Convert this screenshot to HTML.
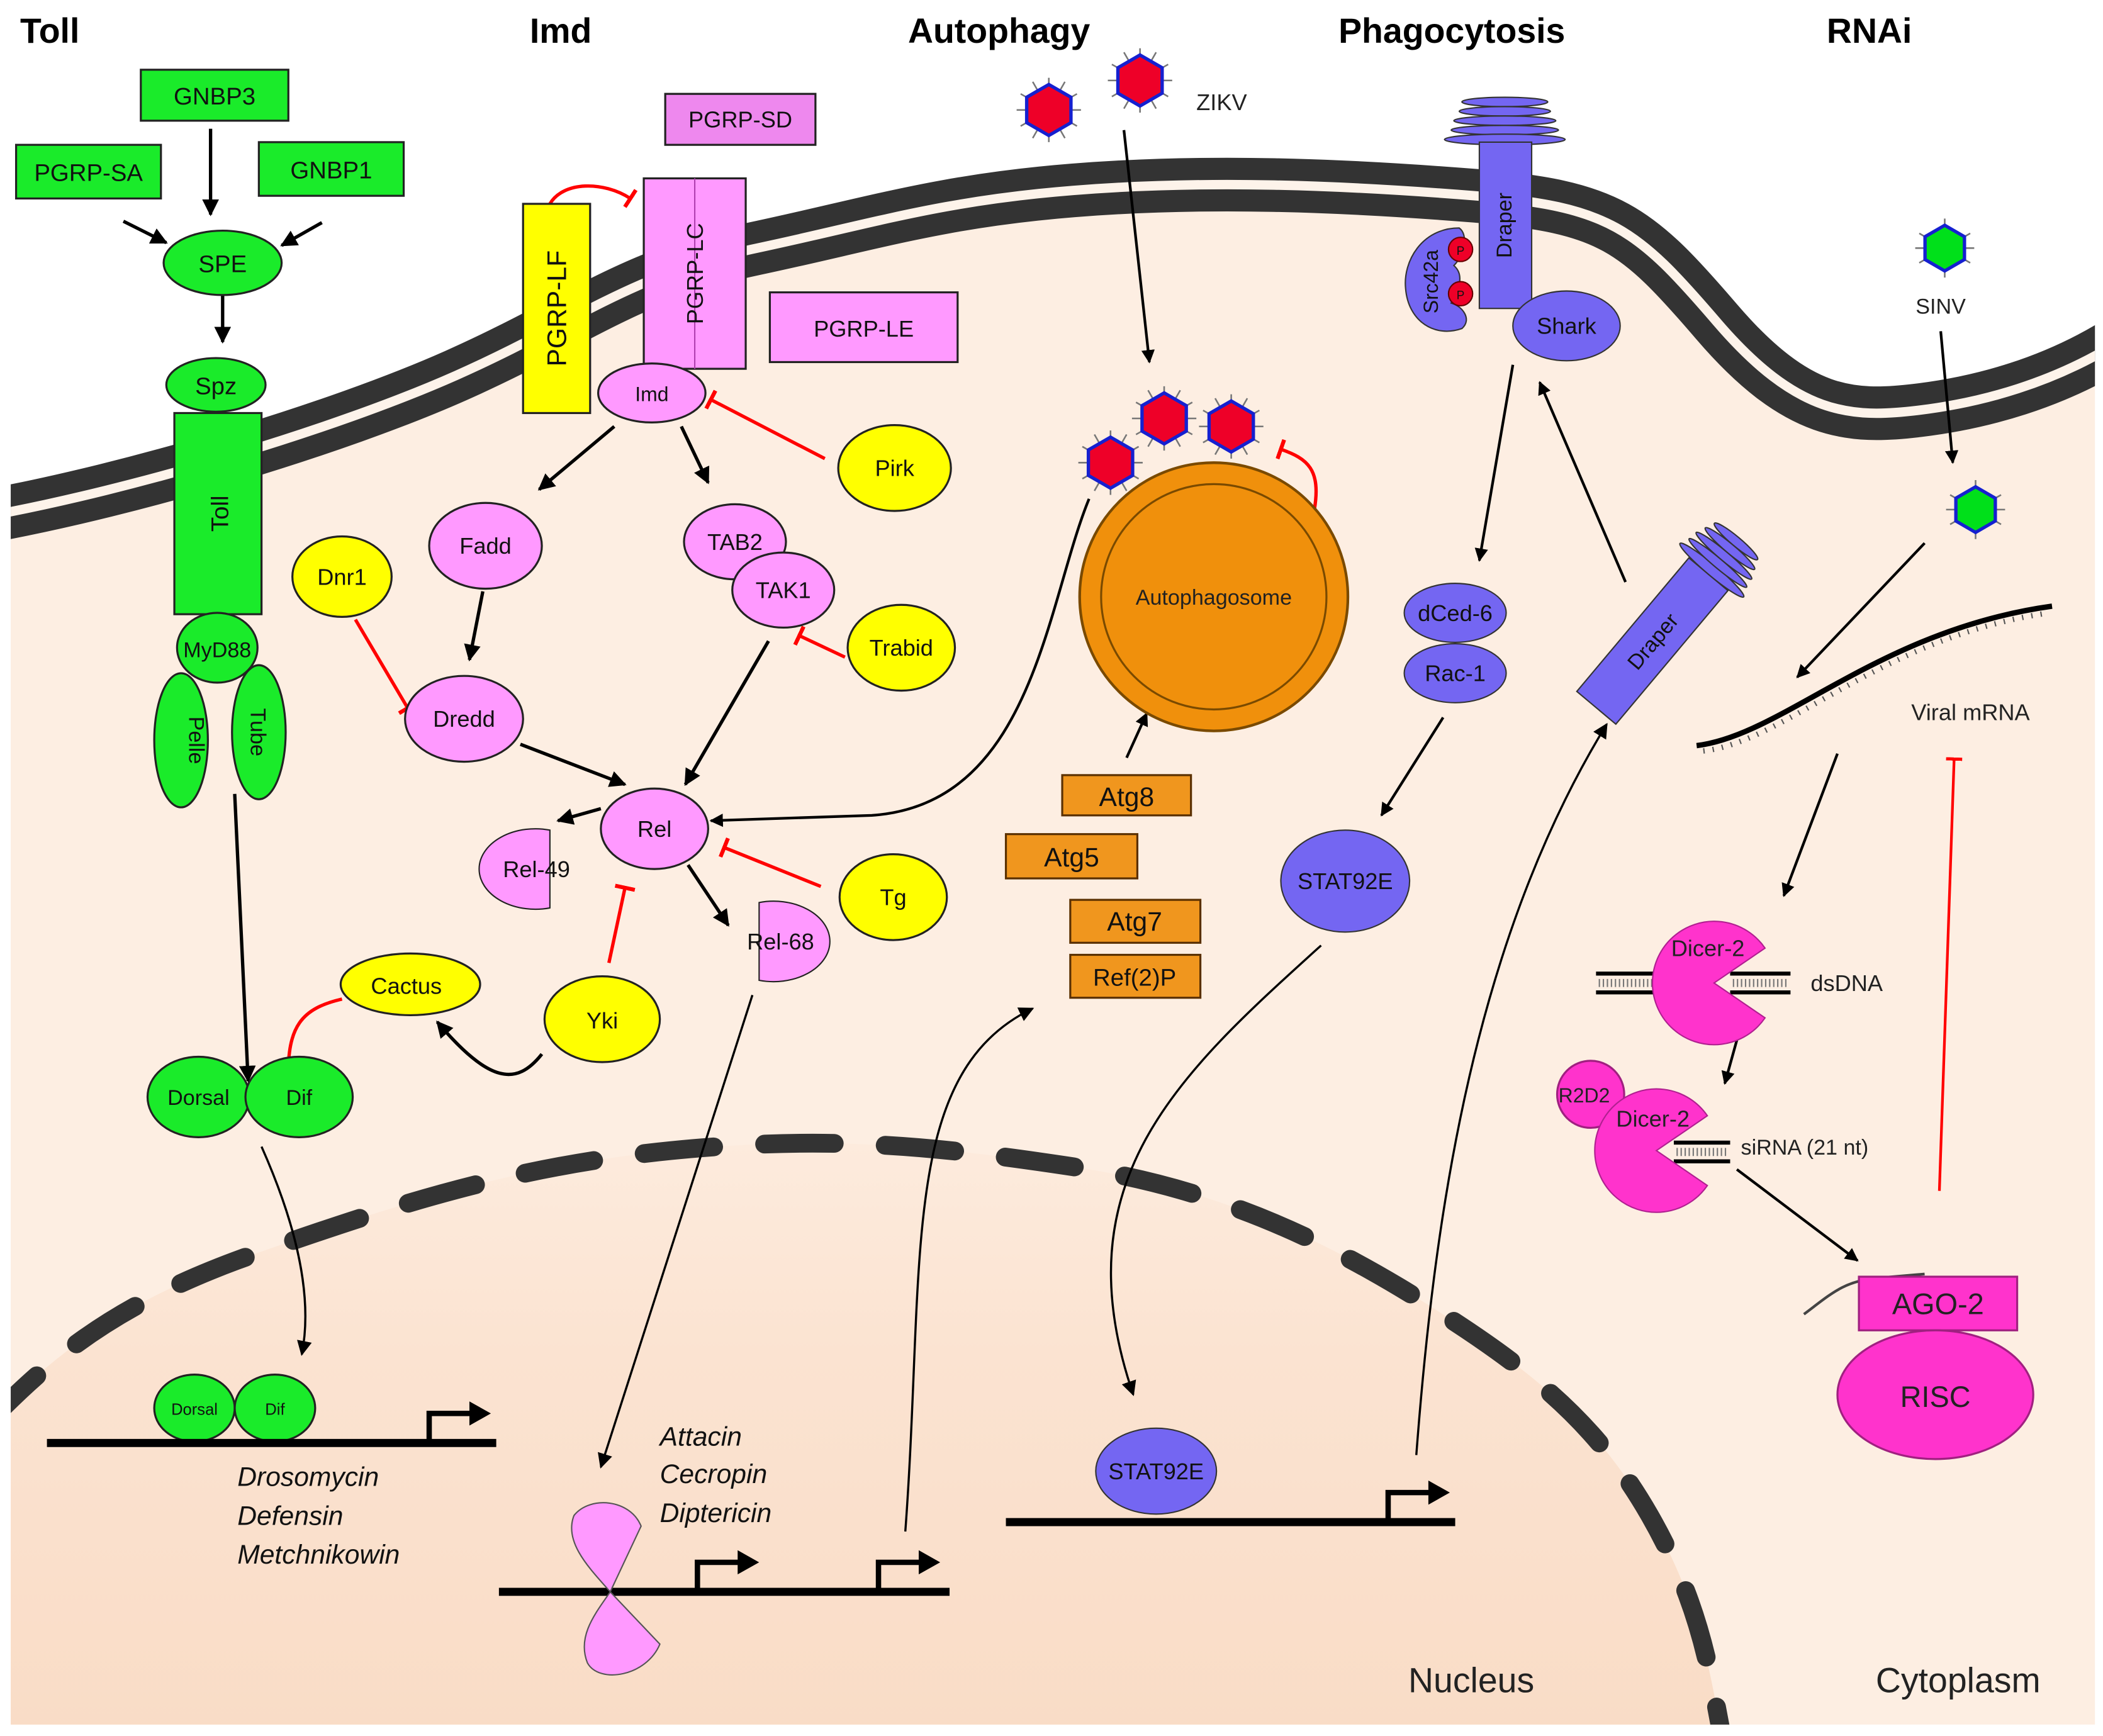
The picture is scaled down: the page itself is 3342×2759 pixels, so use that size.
<!DOCTYPE html>
<html><head><meta charset="utf-8">
<style>
html,body{margin:0;padding:0;background:#fff;}
svg{display:block;}
text{font-family:"Liberation Sans",Arial,sans-serif;}
</style></head>
<body>
<svg width="3342" height="2759" viewBox="0 0 1568 1294.5" preserveAspectRatio="none" xmlns="http://www.w3.org/2000/svg">
<defs>
<marker id="ah" viewBox="0 0 10 10" refX="9" refY="5" markerWidth="5" markerHeight="5" orient="auto"><path d="M0,0 L10,5 L0,10 z" fill="#000"/></marker>
<marker id="ahs" viewBox="0 0 10 10" refX="9" refY="5" markerWidth="7" markerHeight="7" orient="auto"><path d="M0,0 L10,5 L0,10 z" fill="#000"/></marker>
<marker id="bar" viewBox="0 0 4 20" refX="2" refY="10" markerWidth="1.2" markerHeight="7" orient="auto"><rect width="4" height="20" fill="#f00"/></marker>
<linearGradient id="nuc" x1="0" y1="0" x2="0" y2="1">
<stop offset="0" stop-color="#fdebdd"/><stop offset="0.35" stop-color="#fbe3d1"/><stop offset="1" stop-color="#f9dcc6"/></linearGradient>
<g id="vr">
<g stroke="#777" stroke-width="1.2"><line x1="0" y1="-24" x2="0" y2="24"/><line x1="-21" y1="-12" x2="21" y2="12"/><line x1="-21" y1="12" x2="21" y2="-12"/><line x1="-12" y1="-21" x2="12" y2="21"/><line x1="12" y1="-21" x2="-12" y2="21"/><line x1="-24" y1="0" x2="24" y2="0"/></g>
<polygon points="0,-19 16.5,-9.5 16.5,9.5 0,19 -16.5,9.5 -16.5,-9.5" fill="#ee0028" stroke="#1520d0" stroke-width="2.5"/>
</g>
<g id="vg">
<g stroke="#777" stroke-width="1.2"><line x1="0" y1="-22" x2="0" y2="22"/><line x1="-19" y1="-11" x2="19" y2="11"/><line x1="-19" y1="11" x2="19" y2="-11"/><line x1="-22" y1="0" x2="22" y2="0"/></g>
<polygon points="0,-17 14.7,-8.5 14.7,8.5 0,17 -14.7,8.5 -14.7,-8.5" fill="#00e01a" stroke="#1520d0" stroke-width="2.5"/>
</g>
<clipPath id="cellclip"><rect x="8" y="0" width="1554" height="1286"/></clipPath>
</defs>

<rect width="1568" height="1294.5" fill="#fff"/>

<g clip-path="url(#cellclip)">
<path d="M-10 385 C 100 365, 250 320, 340 280 S 470 205, 560 186 S 700 150, 800 142 S 1000 138, 1100 146 S 1220 170, 1280 240 S 1380 312, 1430 306 S 1530 285, 1575 258 L 1575 1300 L -10 1300 Z" fill="#fdeee2"/>
<path d="M -10 1062 C 40 1010, 90 970, 190 935 S 380 870, 500 858 S 700 855, 800 870 S 980 920, 1060 970 S 1190 1060, 1230 1130 S 1275 1250, 1285 1300 L -10 1300 Z" fill="url(#nuc)"/>
<path d="M-10 385 C 100 365, 250 320, 340 280 S 470 205, 560 186 S 700 150, 800 142 S 1000 138, 1100 146 S 1220 170, 1280 240 S 1380 312, 1430 306 S 1530 285, 1575 258" fill="none" stroke="#333" stroke-width="40"/>
<path d="M-10 385 C 100 365, 250 320, 340 280 S 470 205, 560 186 S 700 150, 800 142 S 1000 138, 1100 146 S 1220 170, 1280 240 S 1380 312, 1430 306 S 1530 285, 1575 258" fill="none" stroke="#fdf3ea" stroke-width="7"/>
<path d="M -10 1062 C 40 1010, 90 970, 190 935 S 380 870, 500 858 S 700 855, 800 870 S 980 920, 1060 970 S 1190 1060, 1230 1130 S 1275 1250, 1285 1300" fill="none" stroke="#333" stroke-width="14" stroke-linecap="round" stroke-dasharray="52 38"/>
</g>

<g font-weight="bold" font-size="26" fill="#000">
<text x="15" y="32">Toll</text>
<text x="395" y="32">Imd</text>
<text x="677" y="32">Autophagy</text>
<text x="998" y="32">Phagocytosis</text>
<text x="1362" y="32">RNAi</text>
</g>

<g stroke="#000" stroke-width="2.5" fill="none">
<line x1="157" y1="96" x2="157" y2="160" marker-end="url(#ah)"/>
<line x1="92" y1="165" x2="124" y2="181" marker-end="url(#ah)"/>
<line x1="240" y1="166" x2="210" y2="183" marker-end="url(#ah)"/>
<line x1="166" y1="219" x2="166" y2="255" marker-end="url(#ah)"/>
<line x1="175" y1="592" x2="185" y2="806" marker-end="url(#ah)"/>
<path d="M 404 786 C 385 810, 365 808, 326 762" marker-end="url(#ah)"/>
<path d="M 195 855 C 215 900, 235 960, 225 1010" stroke-width="1.6" marker-end="url(#ahs)"/>
<line x1="458" y1="318" x2="402" y2="365" marker-end="url(#ah)"/>
<line x1="508" y1="318" x2="528" y2="360" marker-end="url(#ah)"/>
<line x1="360" y1="441" x2="350" y2="492" marker-end="url(#ah)"/>
<line x1="388" y1="555" x2="466" y2="585" marker-end="url(#ah)"/>
<line x1="573" y1="478" x2="511" y2="585" marker-end="url(#ah)"/>
<line x1="448" y1="603" x2="416" y2="612" marker-end="url(#ah)"/>
<line x1="513" y1="645" x2="543" y2="690" marker-end="url(#ah)"/>
<line x1="561" y1="742" x2="448" y2="1094" stroke-width="1.6" marker-end="url(#ahs)"/>
<path d="M 675 1142 C 690 940, 670 800, 770 752" stroke-width="1.6" marker-end="url(#ahs)"/>
<line x1="838" y1="97" x2="857" y2="270" stroke-width="2" marker-end="url(#ah)"/>
<path d="M 812 372 C 780 450, 770 600, 650 608 L 530 612" stroke-width="2" marker-end="url(#ah)"/>
<line x1="840" y1="565" x2="855" y2="532" stroke-width="2" marker-end="url(#ah)"/>
<line x1="1128" y1="272" x2="1103" y2="418" stroke-width="2" marker-end="url(#ah)"/>
<line x1="1212" y1="434" x2="1148" y2="285" stroke-width="2" marker-end="url(#ah)"/>
<line x1="1076" y1="535" x2="1030" y2="608" stroke-width="2" marker-end="url(#ah)"/>
<path d="M 985 705 C 880 800, 790 880, 845 1040" stroke-width="1.6" marker-end="url(#ahs)"/>
<path d="M 1056 1085 C 1070 900, 1100 700, 1198 540" stroke-width="1.6" marker-end="url(#ahs)"/>
<line x1="1447" y1="247" x2="1456" y2="345" stroke-width="2" marker-end="url(#ah)"/>
<line x1="1435" y1="405" x2="1340" y2="505" stroke-width="2" marker-end="url(#ah)"/>
<line x1="1370" y1="562" x2="1330" y2="668" stroke-width="2" marker-end="url(#ah)"/>
<line x1="1296" y1="772" x2="1286" y2="808" stroke-width="2" marker-end="url(#ah)"/>
<line x1="1295" y1="872" x2="1385" y2="940" stroke-width="2" marker-end="url(#ah)"/>
</g>

<g stroke="#f00" stroke-width="2.5" fill="none">
<path d="M 255 745 C 225 752, 214 765, 215 805" marker-end="url(#bar)"/>
<line x1="454" y1="718" x2="466" y2="662" marker-end="url(#bar)"/>
<path d="M 410 152 C 420 135, 450 135, 470 148" marker-end="url(#bar)"/>
<line x1="615" y1="342" x2="530" y2="298" marker-end="url(#bar)"/>
<line x1="265" y1="462" x2="304" y2="528" marker-end="url(#bar)"/>
<line x1="630" y1="490" x2="596" y2="474" marker-end="url(#bar)"/>
<line x1="612" y1="661" x2="540" y2="632" marker-end="url(#bar)"/>
<path d="M 980 380 C 985 350, 975 342, 955 335" marker-end="url(#bar)"/>
<line x1="1446" y1="888" x2="1457" y2="566" stroke-width="2" marker-end="url(#bar)"/>
</g>

<g fill="#1aeb2a" stroke="#222" stroke-width="1.5">
<rect x="105" y="52" width="110" height="38"/>
<rect x="12" y="108" width="108" height="40"/>
<rect x="193" y="106" width="108" height="40"/>
<ellipse cx="166" cy="196" rx="44" ry="24"/>
<ellipse cx="161" cy="287" rx="37" ry="20"/>
<rect x="130" y="308" width="65" height="150"/>
<ellipse cx="135" cy="552" rx="20" ry="50"/>
<ellipse cx="193" cy="546" rx="20" ry="50"/>
<ellipse cx="162" cy="483" rx="30" ry="26"/>
<ellipse cx="148" cy="818" rx="38" ry="30"/>
<ellipse cx="223" cy="818" rx="40" ry="30"/>
<ellipse cx="145" cy="1050" rx="30" ry="25"/>
<ellipse cx="205" cy="1050" rx="30" ry="25"/>
</g>
<g font-size="18" fill="#111" text-anchor="middle">
<text x="160" y="78">GNBP3</text>
<text x="66" y="135">PGRP-SA</text>
<text x="247" y="133">GNBP1</text>
<text x="166" y="203">SPE</text>
<text x="161" y="294">Spz</text>
<text transform="translate(170,383) rotate(-90)">Toll</text>
<text x="162" y="490" font-size="16">MyD88</text>
<text transform="translate(141,552) rotate(90)" font-size="16">Pelle</text>
<text transform="translate(187,546) rotate(90)" font-size="16">Tube</text>
<text x="148" y="824" font-size="16">Dorsal</text>
<text x="223" y="824" font-size="16">Dif</text>
<text x="145" y="1055" font-size="12">Dorsal</text>
<text x="205" y="1055" font-size="12">Dif</text>
</g>

<g stroke="#000" fill="none">
<line x1="35" y1="1076" x2="370" y2="1076" stroke-width="6"/>
<line x1="372" y1="1187" x2="708" y2="1187" stroke-width="6"/>
<line x1="750" y1="1135" x2="1085" y2="1135" stroke-width="6"/>
<path d="M 320 1076 V 1054 H 352" stroke-width="4"/>
<path d="M 520 1187 V 1165 H 552" stroke-width="4"/>
<path d="M 655 1187 V 1165 H 687" stroke-width="4"/>
<path d="M 1035 1135 V 1113 H 1067" stroke-width="4"/>
</g>
<g fill="#000">
<polygon points="350,1045 366,1054 350,1063"/>
<polygon points="550,1156 566,1165 550,1174"/>
<polygon points="685,1156 701,1165 685,1174"/>
<polygon points="1065,1104 1081,1113 1065,1122"/>
</g>
<g font-size="20" font-style="italic" fill="#111">
<text x="177" y="1108">Drosomycin</text>
<text x="177" y="1137">Defensin</text>
<text x="177" y="1166">Metchnikowin</text>
<text x="492" y="1078">Attacin</text>
<text x="492" y="1106">Cecropin</text>
<text x="492" y="1135">Diptericin</text>
</g>

<g stroke="#222" stroke-width="1.5">
<rect x="496" y="70" width="112" height="38" fill="#ee88ee"/>
<rect x="480" y="133" width="76" height="142" fill="#ff99ff"/>
<line x1="518" y1="133" x2="518" y2="275" stroke="#b040b0" stroke-width="1"/>
<rect x="390" y="152" width="50" height="156" fill="#ffff00"/>
<rect x="574" y="218" width="140" height="52" fill="#ff99ff"/>
<ellipse cx="486" cy="293" rx="40" ry="22" fill="#ff99ff"/>
<ellipse cx="667" cy="349" rx="42" ry="32" fill="#ffff00"/>
<ellipse cx="362" cy="407" rx="42" ry="32" fill="#ff99ff"/>
<ellipse cx="548" cy="404" rx="38" ry="28" fill="#ff99ff"/>
<ellipse cx="584" cy="440" rx="38" ry="28" fill="#ff99ff"/>
<ellipse cx="255" cy="430" rx="37" ry="30" fill="#ffff00"/>
<ellipse cx="672" cy="483" rx="40" ry="32" fill="#ffff00"/>
<ellipse cx="346" cy="536" rx="44" ry="32" fill="#ff99ff"/>
<ellipse cx="488" cy="618" rx="40" ry="30" fill="#ff99ff"/>
<ellipse cx="666" cy="669" rx="40" ry="32" fill="#ffff00"/>
<ellipse cx="306" cy="734" rx="52" ry="23" fill="#ffff00"/>
<ellipse cx="449" cy="760" rx="43" ry="32" fill="#ffff00"/>
</g>
<path d="M 410 619 A 42 30 0 1 0 410 677 Z" fill="#ff99ff" stroke="#222" stroke-width="1"/>
<path d="M 566 673 A 42 30 0 1 1 566 731 Z" fill="#ff99ff" stroke="#222" stroke-width="1"/>
<path d="M 455 1187 L 478 1138 C 470 1118, 440 1115, 428 1130 C 420 1150, 440 1170, 455 1187 Z" fill="#ff99ff" stroke="#555" stroke-width="1"/>
<path d="M 455 1187 L 492 1226 C 482 1250, 447 1256, 438 1240 C 430 1220, 444 1203, 455 1187 Z" fill="#ff99ff" stroke="#555" stroke-width="1"/>
<g font-size="17" fill="#111" text-anchor="middle">
<text x="552" y="95">PGRP-SD</text>
<text transform="translate(524,204) rotate(-90)">PGRP-LC</text>
<text transform="translate(422,230) rotate(-90)" font-size="20">PGRP-LF</text>
<text x="644" y="251">PGRP-LE</text>
<text x="486" y="299" font-size="15">Imd</text>
<text x="667" y="355">Pirk</text>
<text x="362" y="413">Fadd</text>
<text x="548" y="410">TAB2</text>
<text x="584" y="446">TAK1</text>
<text x="255" y="436">Dnr1</text>
<text x="672" y="489">Trabid</text>
<text x="346" y="542">Dredd</text>
<text x="488" y="624">Rel</text>
<text x="400" y="654">Rel-49</text>
<text x="582" y="708">Rel-68</text>
<text x="666" y="675">Tg</text>
<text x="303" y="741">Cactus</text>
<text x="449" y="767">Yki</text>
</g>

<use href="#vr" x="782" y="82"/>
<use href="#vr" x="850" y="60"/>
<use href="#vr" x="828" y="345"/>
<use href="#vr" x="868" y="312"/>
<use href="#vr" x="918" y="318"/>
<text x="892" y="82" font-size="17" fill="#222">ZIKV</text>
<circle cx="905" cy="445" r="100" fill="#f0900c" stroke="#7a4a00" stroke-width="2"/>
<circle cx="905" cy="445" r="84" fill="none" stroke="#7a4a00" stroke-width="1.5"/>
<text x="905" y="451" font-size="16" text-anchor="middle" fill="#222">Autophagosome</text>
<g fill="#f0961e" stroke="#5a3000" stroke-width="1.5">
<rect x="792" y="578" width="96" height="30"/>
<rect x="750" y="622" width="98" height="33"/>
<rect x="798" y="671" width="97" height="32"/>
<rect x="798" y="712" width="97" height="32"/>
</g>
<g font-size="20" fill="#111" text-anchor="middle">
<text x="840" y="601">Atg8</text>
<text x="799" y="646">Atg5</text>
<text x="846" y="694">Atg7</text>
<text x="846" y="735" font-size="18">Ref(2)P</text>
</g>

<g fill="#7466f2" stroke="#333" stroke-width="1">
<ellipse cx="1122" cy="76" rx="32" ry="3.5"/>
<ellipse cx="1122" cy="83" rx="34" ry="3.5"/>
<ellipse cx="1122" cy="90" rx="38" ry="3.5"/>
<ellipse cx="1122" cy="97" rx="40" ry="3.5"/>
<ellipse cx="1122" cy="104" rx="45" ry="4"/>
<rect x="1103" y="106" width="39" height="124"/>
<path d="M 1088 170 C 1060 170, 1046 195, 1048 215 C 1050 240, 1070 252, 1090 245 C 1098 238, 1090 228, 1082 226 C 1088 215, 1092 205, 1084 198 C 1092 190, 1095 175, 1088 170 Z"/>
<ellipse cx="1168" cy="243" rx="40" ry="26"/>
<ellipse cx="1085" cy="457" rx="38" ry="22"/>
<ellipse cx="1085" cy="502" rx="38" ry="22"/>
<ellipse cx="1003" cy="657" rx="48" ry="38"/>
<ellipse cx="862" cy="1097" rx="45" ry="32"/>
</g>
<g fill="#ee0028" stroke="#600" stroke-width="1"><circle cx="1089" cy="186" r="9"/><circle cx="1089" cy="219" r="9"/></g>
<g transform="translate(1232,478) rotate(-50)" fill="#7466f2" stroke="#333" stroke-width="1">
<rect x="-65" y="-19" width="130" height="38"/>
<ellipse cx="69" cy="0" rx="4" ry="31"/>
<ellipse cx="76" cy="0" rx="3.5" ry="28"/>
<ellipse cx="83" cy="0" rx="3.5" ry="27"/>
<ellipse cx="90" cy="0" rx="3.5" ry="24"/>
<ellipse cx="97" cy="0" rx="3.5" ry="21"/>
<text x="0" y="6" font-size="16" text-anchor="middle" fill="#111" stroke="none">Draper</text>
</g>
<g font-size="17" fill="#111" text-anchor="middle">
<text transform="translate(1127,168) rotate(-90)" font-size="16">Draper</text>
<text transform="translate(1072,210) rotate(-90)" font-size="15">Src42a</text>
<text x="1089" y="190" font-size="9">P</text>
<text x="1089" y="223" font-size="9">P</text>
<text x="1168" y="249">Shark</text>
<text x="1085" y="463">dCed-6</text>
<text x="1085" y="508">Rac-1</text>
<text x="1003" y="663">STAT92E</text>
<text x="862" y="1103">STAT92E</text>
</g>

<use href="#vg" x="1450" y="185"/>
<use href="#vg" x="1473" y="380"/>
<text x="1447" y="234" font-size="16" text-anchor="middle" fill="#222">SINV</text>
<path d="M 1265 556 C 1330 548, 1400 470, 1530 452" fill="none" stroke="#000" stroke-width="4"/>
<path d="M 1270 560 C 1332 553, 1402 475, 1528 457" fill="none" stroke="#555" stroke-width="4" stroke-dasharray="1 6"/>
<text x="1425" y="537" font-size="17" fill="#222">Viral mRNA</text>
<g stroke="#000" stroke-width="3">
<line x1="1190" y1="726" x2="1240" y2="726"/><line x1="1190" y1="740" x2="1240" y2="740"/>
<line x1="1290" y1="726" x2="1335" y2="726"/><line x1="1290" y1="740" x2="1335" y2="740"/>
<line x1="1248" y1="852" x2="1290" y2="852"/><line x1="1248" y1="866" x2="1290" y2="866"/>
</g>
<g stroke="#777" stroke-width="6" stroke-dasharray="1 2">
<line x1="1192" y1="733" x2="1238" y2="733"/><line x1="1292" y1="733" x2="1333" y2="733"/>
<line x1="1250" y1="859" x2="1288" y2="859"/>
</g>
<path d="M 1278 733 L 1316 707 A 46 46 0 1 0 1316 759 Z" fill="#ff33cc" stroke="#b02090" stroke-width="1"/>
<circle cx="1186" cy="816" r="25" fill="#ff33cc" stroke="#a02080" stroke-width="1.5"/>
<path d="M 1235 858 L 1273 832 A 46 46 0 1 0 1273 884 Z" fill="#ff33cc" stroke="#b02090" stroke-width="1"/>
<g font-size="17" fill="#222">
<text x="1246" y="713">Dicer-2</text>
<text x="1350" y="739">dsDNA</text>
<text x="1162" y="822" font-size="15">R2D2</text>
<text x="1205" y="840">Dicer-2</text>
<text x="1298" y="861" font-size="16">siRNA (21 nt)</text>
</g>
<path d="M 1345 980 C 1365 965, 1375 955, 1400 953 L 1435 950" fill="none" stroke="#444" stroke-width="2"/>
<rect x="1386" y="952" width="118" height="40" fill="#ff33cc" stroke="#a02080" stroke-width="1.5"/>
<ellipse cx="1443" cy="1040" rx="73" ry="48" fill="#ff33cc" stroke="#a02080" stroke-width="1.5"/>
<text x="1445" y="980" font-size="22" text-anchor="middle" fill="#222">AGO-2</text>
<text x="1443" y="1049" font-size="22" text-anchor="middle" fill="#222">RISC</text>

<text x="1097" y="1262" font-size="26" text-anchor="middle" fill="#222">Nucleus</text>
<text x="1460" y="1262" font-size="26" text-anchor="middle" fill="#222">Cytoplasm</text>
</svg>
</body></html>
